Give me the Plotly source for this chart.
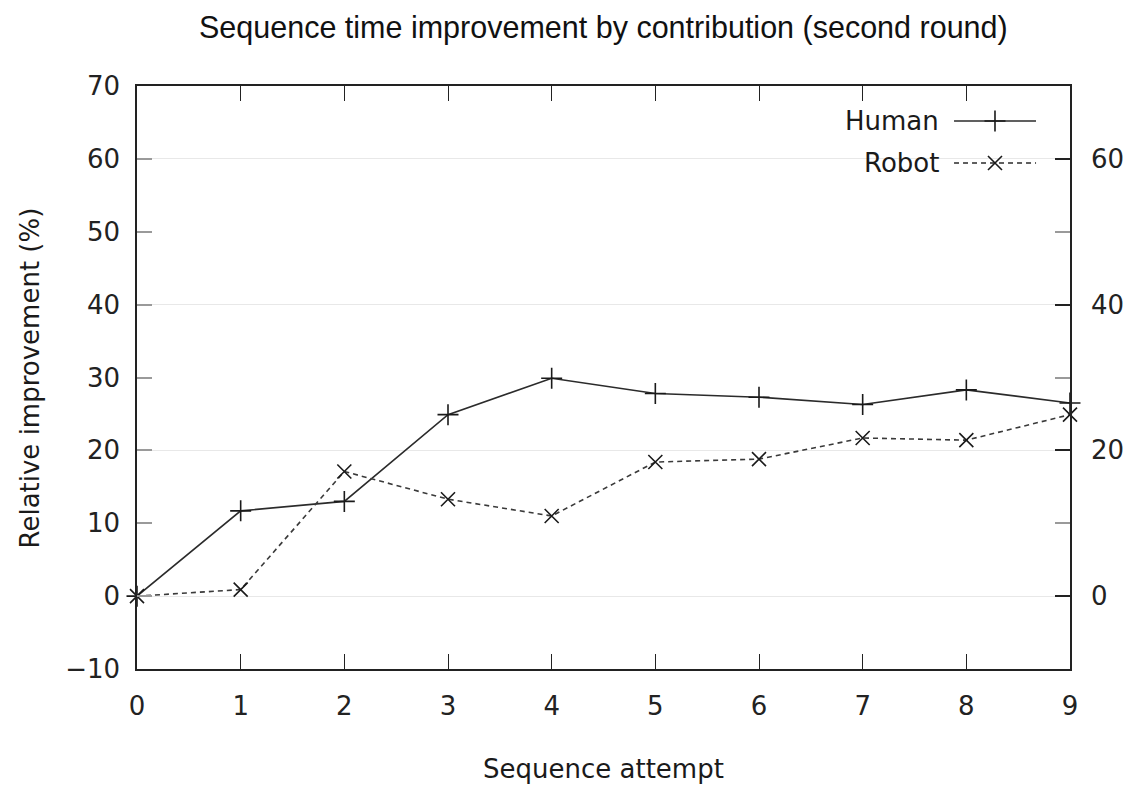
import plotly.graph_objects as go

# Sequence attempts and relative improvement (%) per contribution
attempts = [0, 1, 2, 3, 4, 5, 6, 7, 8, 9]
human = [0.0, 11.7, 13.0, 24.9, 29.9, 27.8, 27.3, 26.3, 28.3, 26.5]
robot = [0.0, 0.9, 17.1, 13.3, 11.0, 18.4, 18.8, 21.7, 21.4, 24.9]

y_range = [-10, 70]
x_range = [0, 9]

TICK_FONT = dict(family="DejaVu Sans", size=26, color="#222222")
INK = "#1a1a1a"
DASH = "5px,4px"

fig = go.Figure()

fig.add_trace(go.Scatter(
    x=attempts, y=human, mode="lines+markers", name="Human",
    line=dict(color="#2b2b2b", width=1.6),
    marker=dict(symbol="cross-thin-open", size=15, color=INK,
                line=dict(color=INK, width=1.6)),
    showlegend=False, cliponaxis=False,
))
fig.add_trace(go.Scatter(
    x=attempts, y=robot, mode="lines+markers", name="Robot",
    line=dict(color="#3a3a3a", width=1.6, dash=DASH),
    marker=dict(symbol="x-thin-open", size=14, color=INK,
                line=dict(color=INK, width=1.6)),
    showlegend=False, cliponaxis=False,
))

# Key samples drawn on a fixed 0..1 overlay so they stay in the corner
key_x0, key_xm, key_x1 = 0.8757, 0.9196, 0.9636
key_rows = [("Human", 0.940, "solid", "cross-thin-open", 15),
            ("Robot", 0.868, DASH, "x-thin-open", 14)]
for label, ky, dash, sym, size in key_rows:
    fig.add_trace(go.Scatter(
        x=[key_x0, key_x1], y=[ky, ky], mode="lines",
        line=dict(color="#2b2b2b", width=1.6, dash=dash),
        xaxis="x3", yaxis="y3", showlegend=False, hoverinfo="skip",
    ))
    fig.add_trace(go.Scatter(
        x=[key_xm], y=[ky], mode="markers",
        marker=dict(symbol=sym, size=size, color=INK,
                    line=dict(color=INK, width=1.6)),
        xaxis="x3", yaxis="y3", showlegend=False, hoverinfo="skip",
    ))
    fig.add_annotation(
        x=0.8617, y=ky, xref="paper", yref="paper", text=label,
        showarrow=False, xanchor="right", yanchor="middle",
        font=dict(family="DejaVu Sans", size=26, color=INK),
    )

fig.update_layout(
    width=1124, height=787,
    margin=dict(l=137, r=54, t=86, b=118, autoexpand=False),
    paper_bgcolor="white", plot_bgcolor="white",
    showlegend=False,
    xaxis=dict(
        range=x_range, tickmode="linear", tick0=0, dtick=1,
        ticks="inside", ticklen=15, tickwidth=1.3, tickcolor="#222222",
        showline=True, linecolor="#222222", linewidth=1.6, mirror="ticks",
        showgrid=False, zeroline=False, automargin=False,
        tickfont=TICK_FONT, ticklabelstandoff=13,
    ),
    yaxis=dict(
        range=y_range, tickmode="linear", tick0=0, dtick=10,
        ticks="inside", ticklen=15, tickwidth=1.6, tickcolor="#9a9a9a",
        showline=True, linecolor="#222222", linewidth=1.6,
        showgrid=False, zeroline=False, automargin=False,
        tickfont=TICK_FONT, ticklabelstandoff=10,
    ),
    yaxis2=dict(
        range=y_range, overlaying="y", side="right", anchor="x",
        tickmode="linear", tick0=0, dtick=20,
        ticks="inside", ticklen=15, tickwidth=1.6, tickcolor="#222222",
        minor=dict(tickmode="linear", tick0=0, dtick=10, ticks="inside",
                   ticklen=15, tickwidth=1.6, tickcolor="#9a9a9a", showgrid=False),
        showline=True, linecolor="#222222", linewidth=1.6,
        showgrid=True, gridcolor="#e8e8e8", gridwidth=1.2, zeroline=False,
        automargin=False, tickfont=TICK_FONT, ticklabelstandoff=14,
    ),
    xaxis3=dict(range=[0, 1], overlaying="x", anchor="y3", visible=False),
    yaxis3=dict(range=[0, 1], overlaying="y", anchor="x3", visible=False),
)

# Invisible trace so the right-hand axis is drawn
fig.add_trace(go.Scatter(x=[attempts[0]], y=[human[0]], yaxis="y2",
                         mode="markers", marker=dict(opacity=0),
                         showlegend=False, hoverinfo="skip"))

fig.add_annotation(
    x=0.5, y=1.0995, xref="paper", yref="paper",
    text="Sequence time improvement by contribution (second round)",
    showarrow=False, xanchor="center", yanchor="middle",
    font=dict(family="Liberation Sans", size=30.5, color="#111111"),
)
fig.add_annotation(
    x=0.5, y=-0.172, xref="paper", yref="paper", text="Sequence attempt",
    showarrow=False, xanchor="center", yanchor="middle",
    font=dict(family="DejaVu Sans", size=26, color=INK),
)
fig.add_annotation(
    x=-0.1147, y=0.5, xref="paper", yref="paper", text="Relative improvement (%)",
    showarrow=False, xanchor="center", yanchor="middle", textangle=-90,
    font=dict(family="DejaVu Sans", size=26, color=INK),
)

fig.write_html("out.html")
